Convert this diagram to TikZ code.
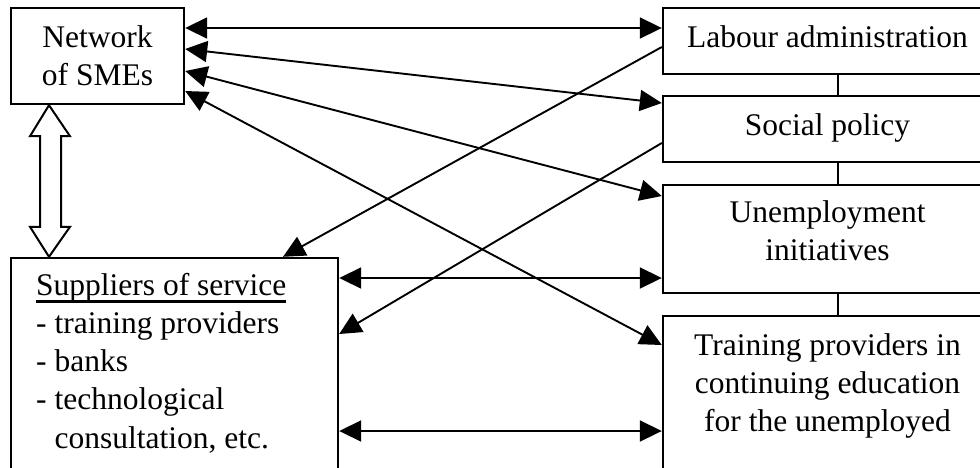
\documentclass[tikz,border=0pt]{standalone}
\usepackage{fontspec}
\setmainfont{Liberation Serif}
\usetikzlibrary{arrows.meta,calc}
% underline drawn as an explicit rule, thicker than \underline's
\newcommand\ulined[1]{\setbox0\hbox{#1}\rlap{\rule[-7.5pt]{\wd0}{2.2pt}}\box0}
\begin{document}
\begin{tikzpicture}[x=1pt,y=-1pt,
  box/.style={draw, line width=2.4pt, inner sep=0pt, rectangle},
  txt/.style={inner sep=0pt, font=\fontsize{31.5}{38.3}\selectfont},
  tip/.style={Triangle[length=22pt,width=21pt]},
  link/.style={line width=1.9pt, -{Triangle[length=22pt,width=21pt]}},
  bilink/.style={line width=1.9pt, {Triangle[length=22pt,width=21pt]}-{Triangle[length=22pt,width=21pt]}},
  joint/.style={line width=2.2pt},
  hollow/.style={draw, line width=2pt, fill=white, line join=miter}
]
\useasboundingbox (0,0) rectangle (980,467);
\clip (0,0) rectangle (980,467);

% boxes
\node[box, minimum width=173pt, minimum height=96pt]  (net) at (97.5,56) {};
\node[box, minimum width=327pt, minimum height=222pt] (sup) at (174.5,369) {};
\node[box, minimum width=350pt, minimum height=66pt]  (lab) at (838,41) {};
\node[box, minimum width=350pt, minimum height=66pt]  (soc) at (838,129) {};
\node[box, minimum width=350pt, minimum height=108pt] (une) at (838,239) {};
\node[box, minimum width=350pt, minimum height=164pt] (tra) at (838,398) {};

% texts
\node[txt, anchor=base] (nettx) at (97.5,47)
  {\begin{tabular}[t]{@{}c@{}}Network\\of SMEs\end{tabular}};
\node[txt, anchor=base west] (suptx) at (36,295)
  {\begin{tabular}[t]{@{}l@{}}\ulined{Suppliers of service}\\- training providers\\- banks\\- technological\\\hphantom{-}\ consultation, etc.\end{tabular}};
\node[txt, anchor=base] (labtx) at (827.5,47) {Labour administration};
\node[txt, anchor=base] (soctx) at (827.5,135) {Social policy};
\node[txt, anchor=base] (unetx) at (827.5,222)
  {\begin{tabular}[t]{@{}c@{}}Unemployment\\initiatives\end{tabular}};
\node[txt, anchor=base] (tratx) at (827.5,355)
  {\begin{tabular}[t]{@{}c@{}}Training providers in\\continuing education\\for the unemployed\end{tabular}};

% links between the stacked boxes
\draw[joint] (lab) -- (soc);
\draw[joint] (soc) -- (une);
\draw[joint] (une) -- (tra);

% arrows
\draw[bilink] (net.east |- 0,28) -- (lab.west |- 0,28);
\draw[bilink] (net.east |- 0,49) -- (soc.west |- 0,103);
\draw[bilink] (net.east |- 0,71) -- (une.west |- 0,196);
\draw[bilink] (net.east |- 0,91) -- (tra.west |- 0,345);
\draw[link] (lab.west |- 0,47) -- (283,0 |- sup.north);
\draw[link] (soc.west |- 0,143) -- (sup.east |- 0,334);
\draw[bilink] (sup.east |- 0,278) -- (une.west |- 0,278);
\draw[bilink] (sup.east |- 0,431) -- (tra.west |- 0,431);

% hollow double arrow between the network and its suppliers
\coordinate (ta) at (49,0 |- net.south);
\coordinate (tb) at (49,0 |- sup.north);
\path[hollow] (ta) -- ++(-19,31) -- ++(10,0) -- ($(tb)+(-9,-30)$) -- ++(-10,0)
  -- (tb) -- ++(21,-30) -- ++(-9,0) -- ($(ta)+(12,31)$) -- ++(9,0) -- cycle;
\end{tikzpicture}
\end{document}
